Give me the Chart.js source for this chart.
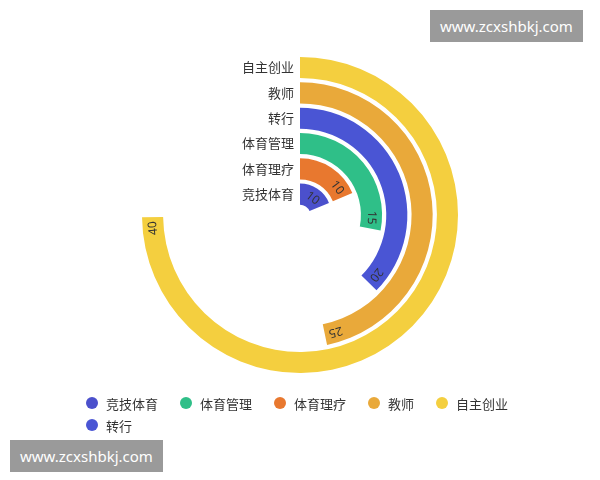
<!DOCTYPE html>
<html><head><meta charset="utf-8">
<script src="https://cdn.jsdelivr.net/npm/chart.js@4"></script>
<style>
body{margin:0;background:#fff;font-family:"Noto Sans CJK SC","Noto Sans",sans-serif;}
#wrap{position:relative;width:600px;height:480px;}
.wm{position:absolute;background:#9a9a9a;color:#fff;font-size:15px;padding:6px 10px;font-family:"Noto Sans",sans-serif;}
#legend{position:absolute;left:86px;top:392px;width:460px;font-size:13px;color:#333;}
#legend span{display:inline-flex;align-items:center;margin-right:22px;height:22px;}
#legend i{display:inline-block;width:12px;height:12px;border-radius:50%;margin-right:8px;}
</style></head><body>
<div id="wrap">
<canvas id="c" width="600" height="430" style="position:absolute;left:0;top:0"></canvas>
<div class="wm" style="left:430px;top:10px;">www.zcxshbkj.com</div>
<div class="wm" style="left:10px;top:440px;">www.zcxshbkj.com</div>
<div id="legend"></div>
</div>
<script>
const categories = ['自主创业','教师','转行','体育管理','体育理疗','竞技体育'];
const values = [40,25,20,15,10,10];
const colors = ['#f4cf3f','#e9a93a','#4a55d4','#2fbf88','#e8782f','#4b50cc'];
const legendOrder = ['竞技体育','体育管理','体育理疗','教师','自主创业','转行'];
const legendColors = ['#4b50cc','#2fbf88','#e8782f','#e9a93a','#f4cf3f','#4a55d4'];
const MAXV = 53.5;

const datasets = [];
categories.forEach((c,i)=>{
  datasets.push({label:c, data:[values[i], MAXV-values[i]], backgroundColor:[colors[i],'rgba(0,0,0,0)'], borderWidth:0, weight:5, isBar:true});
  if(i<categories.length-1) datasets.push({label:'', data:[1], backgroundColor:['rgba(0,0,0,0)'], borderWidth:0, weight:1});
});

const labelPlugin = {
  id:'lbl',
  afterDatasetsDraw(chart){
    const ctx = chart.ctx;
    chart.data.datasets.forEach((ds,di)=>{
      if(!ds.isBar) return;
      const arc = chart.getDatasetMeta(di).data[0];
      const r = (arc.innerRadius+arc.outerRadius)/2;
      const cx = arc.x, cy = arc.y;
      ctx.save();
      ctx.font = '13px "Noto Sans CJK SC"';
      ctx.fillStyle = '#333';
      ctx.textAlign='right'; ctx.textBaseline='middle';
      ctx.fillText(ds.label, cx-6, cy-r);
      const a = arc.endAngle - 11/r;
      ctx.translate(cx+Math.cos(a)*r, cy+Math.sin(a)*r);
      ctx.rotate(a+Math.PI/2);
      ctx.textAlign='center';
      ctx.font = '12px "Noto Sans"';
      ctx.fillText(String(ds.data[0]),0,0);
      ctx.restore();
    });
  }
};

new Chart(document.getElementById('c'),{
  type:'doughnut',
  data:{labels:['v','rest'], datasets},
  options:{responsive:false, animation:false, radius:158, cutout:14,
    layout:{padding:0},
    plugins:{legend:{display:false}, tooltip:{enabled:false}}},
  plugins:[labelPlugin]
});

const lg = document.getElementById('legend');
legendOrder.forEach((n,i)=>{
  const s=document.createElement('span');
  s.innerHTML='<i style="background:'+legendColors[i]+'"></i>'+n;
  lg.appendChild(s);
});
</script>
</body></html>
